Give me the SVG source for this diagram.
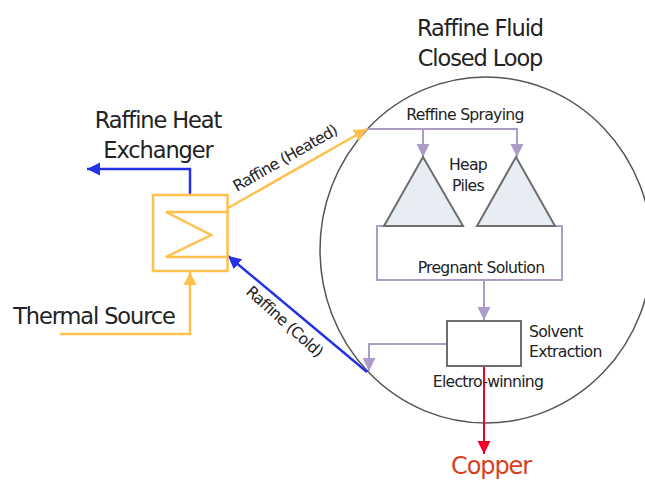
<svg xmlns="http://www.w3.org/2000/svg" width="645" height="480" viewBox="0 0 645 480">
<style>
text{font-family:"DejaVu Sans",Verdana,sans-serif;fill:#222}
.lg{font-size:22.500px;letter-spacing:-1.1px}
.sm{font-size:15.700px;letter-spacing:-.75px}
.y{stroke:#ffc04d;fill:none;stroke-width:2.5}
.b{stroke:#2433e6;fill:none;stroke-width:2.5}
.p{stroke:#ab9cc8;fill:none;stroke-width:2}
.r{stroke:#f0002a;fill:none;stroke-width:2}
.g{stroke:#6e6e6e;stroke-width:2}
</style>
<defs>
<marker id="ay" markerUnits="userSpaceOnUse" markerWidth="14" markerHeight="14" refX="13" refY="6.5" orient="auto"><path d="M0 0L13 6.5L0 13Z" fill="#ffc04d"/></marker>
<marker id="ab" markerUnits="userSpaceOnUse" markerWidth="14" markerHeight="14" refX="13" refY="6.5" orient="auto"><path d="M0 0L13 6.5L0 13Z" fill="#2433e6"/></marker>
<marker id="ap" markerUnits="userSpaceOnUse" markerWidth="14" markerHeight="14" refX="13" refY="6.5" orient="auto"><path d="M0 0L13 6.5L0 13Z" fill="#ab9cc8"/></marker>
<marker id="ar" markerUnits="userSpaceOnUse" markerWidth="14" markerHeight="14" refX="13" refY="6.5" orient="auto"><path d="M0 0L13 6.5L0 13Z" fill="#f0002a"/></marker>
</defs>
<rect width="645" height="480" fill="#fff"/>
<g id="loop"><ellipse cx="486" cy="250" rx="166" ry="173" fill="none" stroke="#555" stroke-width="1.500"/></g>
<g id="connectors">
<path class="b" d="M190 195V169H87" marker-end="url(#ab)"/>
<path class="y" d="M60 334H190V272" marker-end="url(#ay)"/>
<path class="y" d="M228 208L367 129" marker-end="url(#ay)"/>
<path class="b" d="M367 372L228 256" marker-end="url(#ab)"/>
<path class="p" d="M367 129H517V157" marker-end="url(#ap)"/>
<path class="p" d="M423 129V157" marker-end="url(#ap)"/>
<path class="p" d="M385 226H377V280H562V226H555"/>
<path class="p" d="M484 280V320" marker-end="url(#ap)"/>
<path class="p" d="M447 344H369V371" marker-end="url(#ap)"/>
<path class="r" d="M484 366V454" marker-end="url(#ar)"/>
</g>
<g id="heat-exchanger"><rect x="153" y="195" width="74.500" height="76" class="y" fill="#fff"/><path class="y" d="M227 212H166L211 235L166 257H227"/></g>
<g id="heap1"><path class="g" d="M423 157L384 226H463Z" fill="#e8edf4"/></g>
<g id="heap2"><path class="g" d="M516 157L477 226H555Z" fill="#e8edf4"/></g>
<g id="solvent"><rect class="g" x="447" y="321" width="74" height="45" fill="#fff"/></g>
<g id="labels">
<text class="lg" x="480" y="36" text-anchor="middle">Raffine Fluid</text>
<text class="lg" x="480" y="66" text-anchor="middle">Closed Loop</text>
<text class="lg" x="158" y="128" text-anchor="middle">Raffine Heat</text>
<text class="lg" x="158" y="158" text-anchor="middle">Exchanger</text>
<text class="lg" x="94" y="324" text-anchor="middle">Thermal Source</text>
<text class="sm" transform="translate(237 192) rotate(-30)">Raffine (Heated)</text>
<text class="sm" transform="translate(245 293) rotate(42)">Raffine (Cold)</text>
<text class="sm" x="465" y="120" text-anchor="middle">Reffine Spraying</text>
<text class="sm" x="468" y="170" text-anchor="middle">Heap</text>
<text class="sm" x="468" y="191" text-anchor="middle">Piles</text>
<text class="sm" x="481" y="273" text-anchor="middle">Pregnant Solution</text>
<text class="sm" x="529" y="337">Solvent</text>
<text class="sm" x="529" y="357">Extraction</text>
<text class="sm" x="488" y="387" text-anchor="middle">Electro-winning</text>
<text class="lg" x="491" y="474" text-anchor="middle" style="fill:#d8401c;font-size:24px">Copper</text>
</g>
</svg>
